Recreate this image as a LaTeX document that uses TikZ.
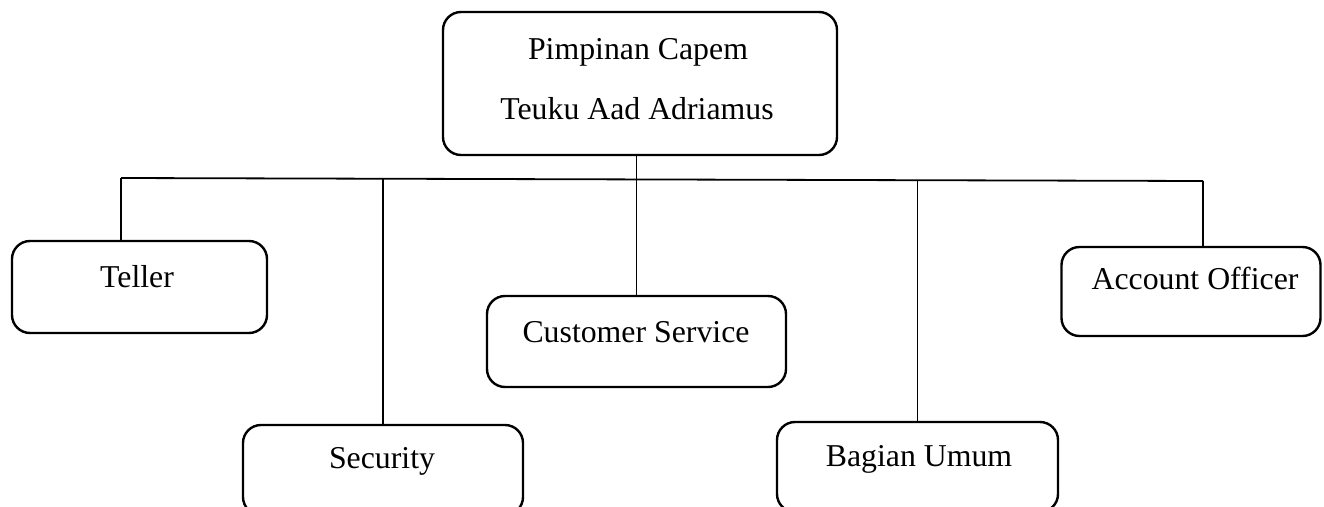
\documentclass[tikz,border=0pt]{standalone}
\usepackage{fontspec}
\setmainfont{Liberation Serif}
\begin{document}
\begin{tikzpicture}[x=1pt,y=-1pt,
  box/.style={draw=black, line width=2.4pt, rounded corners=18pt, rectangle, inner sep=0pt},
  lbl/.style={anchor=base, inner sep=0pt, font=\fontsize{31.8}{38}\selectfont},
  conn/.style={draw=black, line width=1.8pt}]
\clip (0,0) rectangle (1324,506);
\fill[white] (0,0) rectangle (1324,506);
% boxes
\node[box, minimum width=394pt, minimum height=143pt] (top) at (640,83.5) {};
\node[box, minimum width=255pt, minimum height=92pt] (teller) at (139.5,287) {};
\node[box, minimum width=280pt, minimum height=90pt] (security) at (383,470) {};
\node[box, minimum width=299pt, minimum height=91pt] (cs) at (636.5,341.5) {};
\node[box, minimum width=281pt, minimum height=90pt] (bagian) at (917.5,467) {};
\node[box, minimum width=259pt, minimum height=89pt] (account) at (1191,291.5) {};
% texts
\node[lbl] (t1) at (638,59) {Pimpinan Capem};
\node[lbl] (t2) at (637,119) {Teuku Aad Adriamus};
\node[lbl] (tteller) at (137,287) {Teller};
\node[lbl] (tsec) at (382,468) {Security};
\node[lbl] (tcs) at (636,342) {Customer Service};
\node[lbl] (tbag) at (919,466) {Bagian Umum};
\node[lbl] (tacc) at (1195,289) {Account Officer};
% connectors
\coordinate (hl) at (121,178);
\coordinate (hr) at (1203,181);
\draw[conn] (hl) -- (hr);
\draw[conn] (cs.north) -- (cs.north |- top.south);
\draw[conn] (hl) -- (hl |- teller.north);
\draw[conn] (security.north) -- (security.north |- hl);
\draw[conn] (bagian.north) -- (bagian.north |- hr);
\draw[conn] (hr) -- (hr |- account.north);
\end{tikzpicture}
\end{document}
